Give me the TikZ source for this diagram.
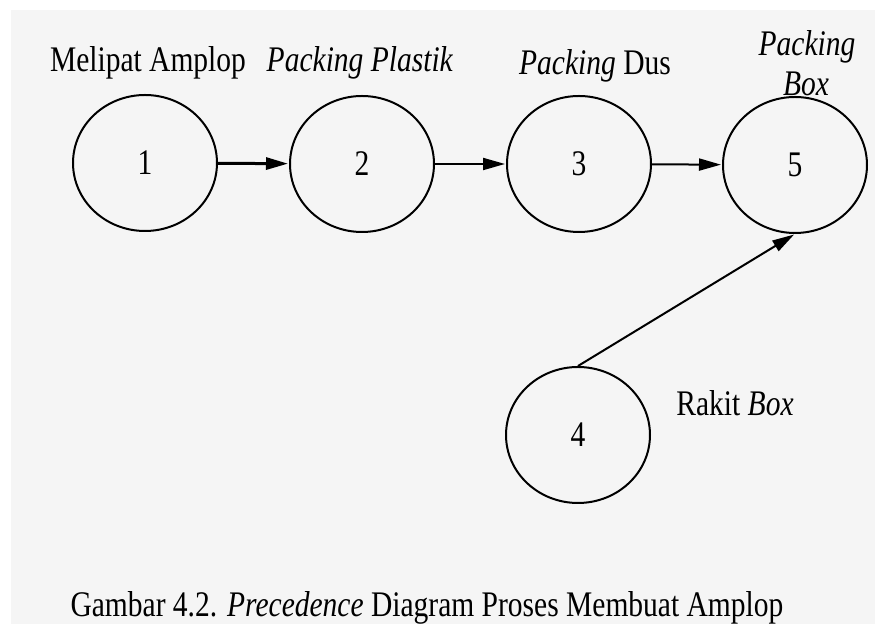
\documentclass[tikz,border=0pt]{standalone}
\usepackage{fontspec}
\setmainfont[FakeStretch=0.82]{Liberation Serif}
\usetikzlibrary{shapes.geometric,arrows.meta}
\begin{document}
\begin{tikzpicture}[x=0.5pt,y=-0.5pt,
  proc/.style={ellipse,draw,line width=1pt,minimum width=72pt,minimum height=68pt,inner sep=0pt,
    font=\fontsize{18}{21}\selectfont},
  lbl/.style={inner sep=0pt,font=\fontsize{18}{21}\selectfont},
  flow/.style={-{Triangle[length=11pt,width=6pt]},line width=1pt,shorten >=0.5pt}]
\useasboundingbox (0,0) rectangle (875,624);
\fill[black!4] (11,10) rectangle (875,624);
\node[proc] (c1) at (145,163) {1};
\node[proc] (c2) at (362,164) {2};
\node[proc] (c3) at (579,164) {3};
\node[proc] (c5) at (795,165) {5};
\node[proc] (c4) at (578,435) {4};
\draw[flow,line width=1.5pt] (c1) -- (c2);
\draw[flow] (c2) -- (c3);
\draw[flow] (c3) -- (c5);
\draw[flow] (c4.north) -- (c5.south);
\node[lbl] (l1) at (148,63) {Melipat Amplop};
\node[lbl] (l2) at (360,63) {\textit{Packing Plastik}};
\node[lbl] (l3) at (595,66) {\textit{Packing} Dus};
\node[lbl] (l5a) at (807,47) {\textit{Packing}};
\node[lbl] (l5b) at (806,84) {\textit{Box}};
\node[lbl] (l4) at (735,403) {Rakit \textit{Box}};
\node[lbl] (cap) at (427,608) {Gambar 4.2. \textit{Precedence} Diagram Proses Membuat Amplop};
\end{tikzpicture}
\end{document}
